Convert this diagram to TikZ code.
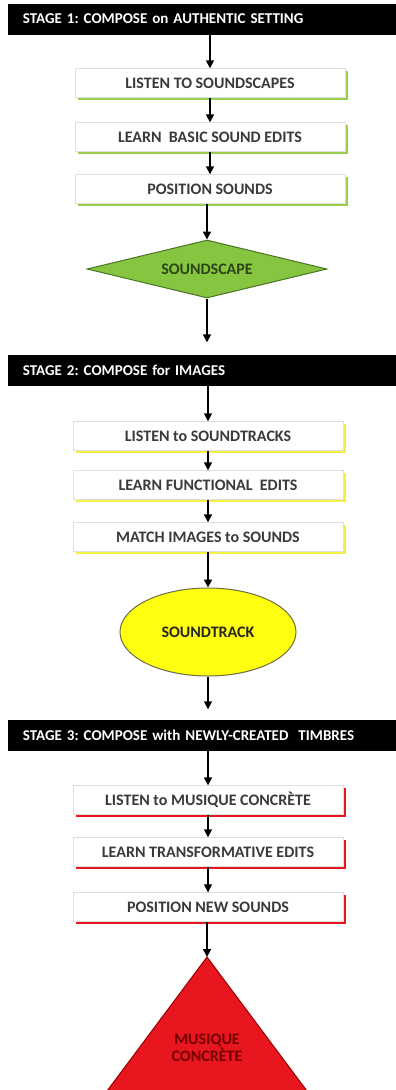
\documentclass[tikz,border=0pt]{standalone}
\usepackage{fontspec}
\setmainfont{Carlito}
\usepackage{tikz}
\usetikzlibrary{arrows.meta, positioning, shapes.geometric, shadows}
\frenchspacing

\definecolor{scapegreen}{HTML}{86C540}
\definecolor{scapedark}{HTML}{4A7426}
\definecolor{scapeshade}{HTML}{9ACD4A}
\definecolor{trackyellow}{HTML}{FFFF10}
\definecolor{trackshade}{HTML}{F2F040}
\definecolor{concred}{HTML}{E8161E}
\definecolor{boxtext}{HTML}{3A3A3A}

\begin{document}
\begin{tikzpicture}[
  x=1pt, y=-1pt,
  every node/.style={font=\fontsize{16}{18}\selectfont\bfseries},
  stagebar/.style={fill=black, text=white, text width=358pt, inner xsep=15pt,
    minimum height=31pt, align=left, font=\fontsize{15}{17}\selectfont\bfseries},
  stepbox/.style={rectangle, fill=white, draw=gray!25, text=boxtext,
    minimum width=270pt, minimum height=29pt,
    general shadow={fill=#1, shadow xshift=2.5pt, shadow yshift=-2.5pt}},
  flow/.style={draw, line width=1.6pt, -{Triangle[length=8pt,width=8pt]}}
]
\useasboundingbox (0,0) rectangle (396,1090);

% stage 1
\node[stagebar] (stageA) at (202,19) {STAGE 1: COMPOSE on AUTHENTIC SETTING};
\node[stepbox=scapeshade] (listenA) at (210,83) {LISTEN TO SOUNDSCAPES};
\node[stepbox=scapeshade] (learnA) at (210,137) {LEARN\ \ BASIC SOUND EDITS};
\node[stepbox=scapeshade] (placeA) at (210,189) {POSITION SOUNDS};
\node[diamond, aspect=4, fill=scapegreen, draw=scapedark, line width=1pt, text=scapedark!60!black,
  minimum width=240pt, minimum height=58pt, inner sep=0pt] (scape) at (207,269) {SOUNDSCAPE};

% stage 2
\node[stagebar] (stageB) at (202,370) {STAGE 2: COMPOSE for IMAGES};
\node[stepbox=trackshade] (listenB) at (208,436) {LISTEN to SOUNDTRACKS};
\node[stepbox=trackshade] (learnB) at (208,485) {LEARN FUNCTIONAL\ \ EDITS};
\node[stepbox=trackshade] (matchB) at (208,537) {MATCH IMAGES to SOUNDS};
\node[ellipse, fill=trackyellow, draw=black!65!yellow, line width=1pt, text=black!85,
  minimum width=176pt, minimum height=88pt] (track) at (208,632) {SOUNDTRACK};

% stage 3
\node[stagebar] (stageC) at (202,735) {STAGE 3: COMPOSE with NEWLY-CREATED\ \ TIMBRES};
\node[stepbox=concred] (listenC) at (208,800) {LISTEN to MUSIQUE CONCRÈTE};
\node[stepbox=concred] (learnC) at (208,852) {LEARN TRANSFORMATIVE EDITS};
\node[stepbox=concred] (placeC) at (208,907) {POSITION NEW SOUNDS};
\coordinate (apex) at (207,957);
\draw[fill=concred, draw=red!60!black, line width=1pt]
  (apex) -- (307,1091) -- (107,1091) -- cycle;
\node[align=center, text=red!45!black] (concrete) at (207,1048) {MUSIQUE\\[-1pt]CONCRÈTE};

% arrows
\draw[flow] (stageA.south -| listenA) -- (listenA);
\draw[flow] (listenA) -- (learnA);
\draw[flow] (learnA) -- (placeA);
\draw[flow] (placeA.south -| scape) -- (scape);
\draw[flow, shorten >=12pt] (scape) -- (stageB.north -| scape);
\draw[flow] (stageB.south -| listenB) -- (listenB);
\draw[flow] (listenB) -- (learnB);
\draw[flow] (learnB) -- (matchB);
\draw[flow] (matchB) -- (track);
\draw[flow, shorten >=10pt] (track) -- (stageC.north -| track);
\draw[flow] (stageC.south -| listenC) -- (listenC);
\draw[flow] (listenC) -- (learnC);
\draw[flow] (learnC) -- (placeC);
\draw[flow] (placeC.south -| apex) -- (apex);
\end{tikzpicture}
\end{document}
